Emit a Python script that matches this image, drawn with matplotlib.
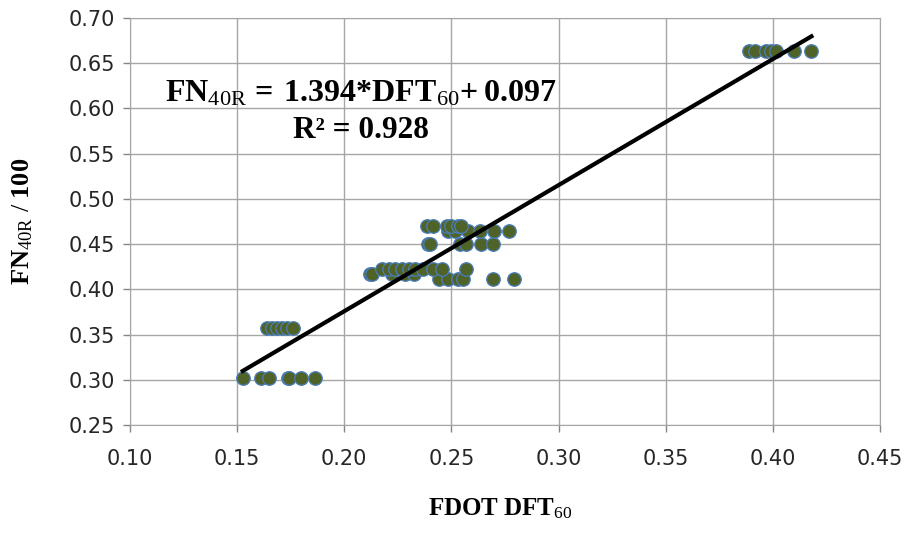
import numpy as np
import matplotlib
matplotlib.use('Agg')
import matplotlib.pyplot as plt

plt.rcParams['mathtext.fontset'] = 'custom'
plt.rcParams['mathtext.rm'] = 'Liberation Serif'
plt.rcParams['mathtext.bf'] = 'Liberation Serif:bold'
plt.rcParams['mathtext.it'] = 'Liberation Serif:italic'

# FDOT DFT60 values, grouped by row of the scatter
dft_030 = [0.1526, 0.1613, 0.1650, 0.1736, 0.1740, 0.1800, 0.1862]
dft_036 = [0.1640, 0.1664, 0.1687, 0.1707, 0.1734, 0.1760]
dft_041 = [0.2441, 0.2485, 0.2531, 0.2554, 0.2693, 0.2794]
dft_0417 = [0.2122, 0.2130, 0.2222, 0.2284, 0.2323]
dft_0423 = [0.2176, 0.2207, 0.2238, 0.2269, 0.2300, 0.2330, 0.2369, 0.2415, 0.2454, 0.2569]
dft_045 = [0.2389, 0.2400, 0.2538, 0.2569, 0.2636, 0.2693]
dft_0465 = [0.2485, 0.2515, 0.2577, 0.2631, 0.2698, 0.2770]
dft_047 = [0.2384, 0.2415, 0.2477, 0.2500, 0.2531, 0.2546]
dft_066 = [0.3889, 0.3917, 0.3968, 0.3990, 0.4014, 0.4097, 0.4180]

rows = [(dft_030, 0.302), (dft_036, 0.357), (dft_041, 0.411), (dft_0417, 0.417),
        (dft_0423, 0.423), (dft_045, 0.450), (dft_0465, 0.465), (dft_047, 0.470),
        (dft_066, 0.663)]

x = np.concatenate([r[0] for r in rows])
y = np.concatenate([[r[1]] * len(r[0]) for r in rows])

slope, intercept = 1.394, 0.097

fig = plt.figure(figsize=(9.06, 5.37), dpi=100)
ax = fig.add_axes([0.1435, 0.2086, 0.8278, 0.7579])

ax.scatter(x, y, s=95, color='#4F6228', edgecolors='#4A7EBB', linewidths=0.9, zorder=3)
xl = np.array([x.min(), x.max()])
ax.plot(xl, slope * xl + intercept, color='black', lw=3, zorder=4)

ax.set_xlim(0.10, 0.45)
ax.set_ylim(0.25, 0.70)
ax.set_xticks(np.arange(0.10, 0.451, 0.05))
ax.set_yticks(np.arange(0.25, 0.701, 0.05))
ax.xaxis.set_major_formatter(matplotlib.ticker.FormatStrFormatter('%.2f'))
ax.yaxis.set_major_formatter(matplotlib.ticker.FormatStrFormatter('%.2f'))
ax.grid(True, color='#a6a6a6', lw=1.0)
ax.set_axisbelow(True)
for s in ax.spines.values():
    s.set_color('#a6a6a6')
ax.tick_params(axis='both', colors='#868686', length=5, width=1, labelcolor='#262626',
               labelsize=15)
ax.tick_params(axis='x', pad=12)
ax.tick_params(axis='y', pad=6)

ax.text(0.208, 0.617, r'$\mathbf{FN}_{\mathrm{40R}}\mathbf{\,{=}\;1.394{*}DFT}_{\mathrm{60}}\mathbf{{+}\;0.097}$',
        ha='center', va='center', fontsize=23)
ax.text(0.208, 0.576, 'R² = 0.928', ha='center', va='center', fontsize=22.5,
        family='Liberation Serif', weight='bold')

fig.text(0.552, 0.052, r'$\mathbf{FDOT\ DFT}_{\mathrm{60}}$', ha='center', va='center', fontsize=18)
fig.text(0.025, 0.587, r'$\mathbf{FN}_{\mathrm{40R}}\ /\ \mathbf{100}$', ha='center', va='center',
         fontsize=19, rotation=90)

fig.savefig('out.png', dpi=100)
